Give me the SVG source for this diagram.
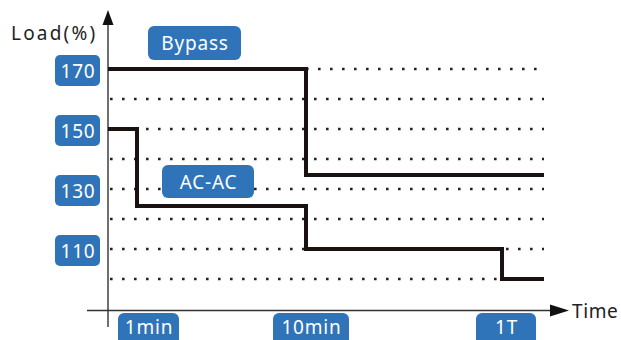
<svg xmlns="http://www.w3.org/2000/svg" width="621" height="340" viewBox="0 0 621 340">
<style>
.box{fill:#2f74b8}
.bt{fill:#ffffff;font-family:"Noto Sans",sans-serif;font-size:19px;letter-spacing:0.8px;text-anchor:middle;dominant-baseline:central}
.grid{stroke:#222;stroke-width:2.6;stroke-dasharray:2.6 9.4;fill:none}
.curve{stroke:#1a1210;stroke-width:4;fill:none;stroke-linejoin:miter}
.axis{stroke:#333;stroke-width:1.4;fill:none}
.lab{fill:#222;font-family:"Noto Sans",sans-serif;font-size:19px;dominant-baseline:central}
</style>
<rect width="621" height="340" fill="#ffffff"/>
<g id="grid">
<line class="grid" x1="306" y1="69" x2="544" y2="69"/>
<line class="grid" x1="110" y1="99" x2="544" y2="99"/>
<line class="grid" x1="110" y1="129" x2="544" y2="129"/>
<line class="grid" x1="110" y1="159" x2="544" y2="159"/>
<line class="grid" x1="110" y1="189" x2="544" y2="189"/>
<line class="grid" x1="110" y1="219" x2="544" y2="219"/>
<line class="grid" x1="110" y1="249" x2="544" y2="249"/>
<line class="grid" x1="110" y1="279" x2="544" y2="279"/>
</g>
<g id="connectors">
<line class="axis" x1="108" y1="22" x2="108" y2="327"/>
<polygon points="108,10 102.5,25 113.5,25" fill="#111"/>
<line class="axis" x1="87" y1="310.5" x2="552" y2="310.5"/>
<polygon points="569,310.5 550,304.5 550,316.5" fill="#111"/>
<polyline class="curve" points="108,69 306,69 306,175 544,175"/>
<polyline class="curve" points="108,129 137,129 137,206 306,206 306,249 502,249 502,279 544,279"/>
</g>
<g id="axis-labels">
<text class="lab" x="11" y="33" letter-spacing="2.2">Load(%)</text>
<text class="lab" x="572" y="311" font-size="21" letter-spacing="0.6">Time</text>
</g>
<g id="y170"><rect class="box" x="55" y="55" width="45" height="31" rx="5"/><text class="bt" x="78" y="70.5">170</text></g>
<g id="y150"><rect class="box" x="55" y="115" width="45" height="31" rx="5"/><text class="bt" x="78" y="130.5">150</text></g>
<g id="y130"><rect class="box" x="55" y="175" width="45" height="31" rx="5"/><text class="bt" x="78" y="190.5">130</text></g>
<g id="y110"><rect class="box" x="55" y="235" width="45" height="31" rx="5"/><text class="bt" x="78" y="250.5">110</text></g>
<g id="bypass"><rect class="box" x="148" y="26" width="93" height="34" rx="6"/><text class="bt" x="195" y="43">Bypass</text></g>
<g id="acac"><rect class="box" x="162" y="165" width="92" height="33" rx="6"/><text class="bt" x="208.5" y="181.5">AC-AC</text></g>
<g id="t1min"><rect class="box" x="118" y="313" width="61" height="34" rx="6"/><text class="bt" x="149" y="327">1min</text></g>
<g id="t10min"><rect class="box" x="273" y="313" width="76" height="34" rx="6"/><text class="bt" x="311.5" y="327">10min</text></g>
<g id="t1T"><rect class="box" x="476" y="313" width="60" height="34" rx="6"/><text class="bt" x="506.5" y="327">1T</text></g>
</svg>
